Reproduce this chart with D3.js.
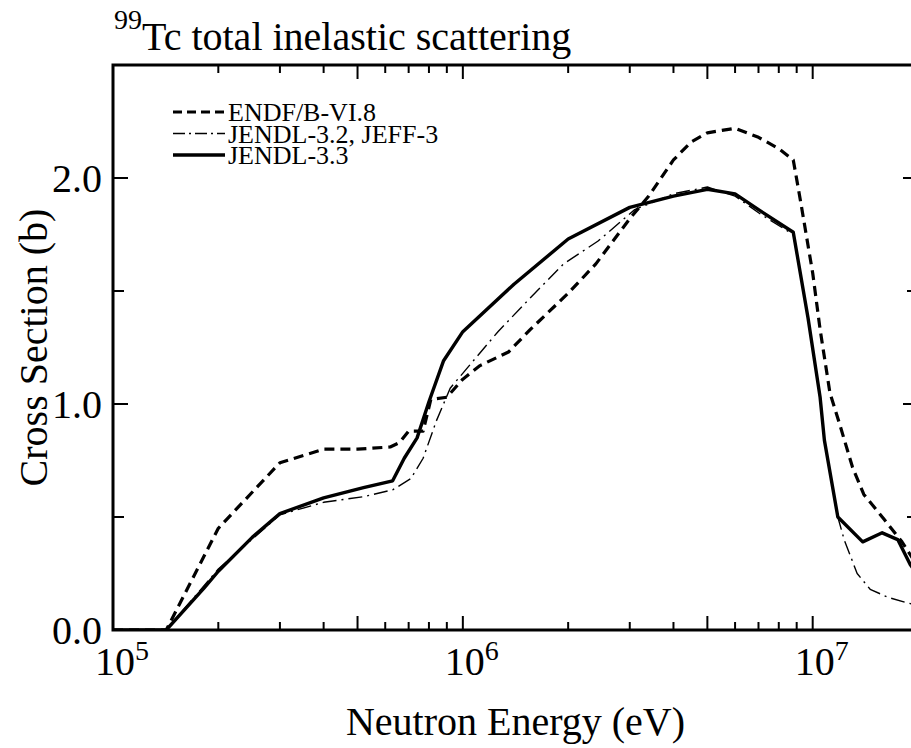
<!DOCTYPE html>
<html lang="en">
<head>
<meta charset="UTF-8">
<title>99Tc total inelastic scattering</title>
<script src="https://cdn.jsdelivr.net/npm/d3@7"></script>
<style>
    html, body {margin: 0; padding: 0; background: #fff;}
    svg {display: block;}
    text {font-family: "Liberation Serif", "DejaVu Serif", serif; fill: #000;}
</style>
</head>
<body>
<svg id="chart"></svg>
<script>
    // DATA: energy (eV) and cross section (b)
    const endfB68 = [
        [1e5, 0], [1.42e5, 0], [2e5, 0.45], [3e5, 0.74], [4e5, 0.80], [5e5, 0.80],
        [6.2e5, 0.81], [6.6e5, 0.83], [7e5, 0.88], [7.7e5, 0.88], [8.1e5, 1.02], [9e5, 1.03],
        [1e6, 1.11], [1.12e6, 1.17], [1.35e6, 1.23], [1.56e6, 1.33], [2e6, 1.49], [2.4e6, 1.62],
        [3e6, 1.82], [3.4e6, 1.92], [4e6, 2.08], [4.5e6, 2.16], [5e6, 2.20], [6e6, 2.22],
        [7e6, 2.18], [8e6, 2.13], [8.8e6, 2.08], [9.25e6, 1.89], [1e7, 1.58], [1.05e7, 1.33],
        [1.12e7, 1.05], [1.2e7, 0.90], [1.3e7, 0.72], [1.4e7, 0.60], [1.6e7, 0.49],
        [1.8e7, 0.39], [2e7, 0.28]
    ];
    const jendl32 = [
        [1e5, 0], [1.42e5, 0], [2e5, 0.27], [3e5, 0.51], [4e5, 0.565], [5.2e5, 0.59],
        [6.3e5, 0.62], [7.1e5, 0.67], [7.7e5, 0.76], [8.4e5, 0.925], [9.2e5, 1.07],
        [1.07e6, 1.19], [1.26e6, 1.32], [1.56e6, 1.47], [1.94e6, 1.62], [2.43e6, 1.72],
        [3.1e6, 1.86], [4e6, 1.93], [5e6, 1.96], [6e6, 1.92], [7.1e6, 1.84], [8.8e6, 1.75],
        [9.7e6, 1.38], [1.05e7, 1.03], [1.08e7, 0.84], [1.18e7, 0.50], [1.23e7, 0.40],
        [1.34e7, 0.25], [1.46e7, 0.18], [1.64e7, 0.145], [1.86e7, 0.12], [2e7, 0.11]
    ];
    const jendl33 = [
        [1e5, 0], [1.42e5, 0], [1.82e5, 0.185], [2e5, 0.26], [2.5e5, 0.41], [3e5, 0.515],
        [4e5, 0.585], [5.2e5, 0.63], [6.3e5, 0.66], [6.8e5, 0.76], [7.4e5, 0.85], [8e5, 1.01],
        [8.8e5, 1.19], [1e6, 1.32], [1.4e6, 1.53], [2e6, 1.73], [3e6, 1.87], [4e6, 1.92],
        [5e6, 1.95], [6e6, 1.93], [7e6, 1.86], [8.8e6, 1.76], [9.7e6, 1.38], [1.05e7, 1.03],
        [1.08e7, 0.84], [1.18e7, 0.50], [1.39e7, 0.39], [1.58e7, 0.43], [1.75e7, 0.40],
        [1.9e7, 0.29], [2e7, 0.24]
    ];
    const seriesNames = ["ENDF/B-VI.8", "JENDL-3.2, JEFF-3", "JENDL-3.3"];
    const xMajorTicks = [1e5, 1e6, 1e7];
    const xTickExponents = ["5", "6", "7"];
    const yMajorTicks = [0, 1, 2];
    const yTickLabels = ["0.0", "1.0", "2.0"];
    const yMinorTicks = [0.5, 1.5];

    // Dimensions
    const dim = {width: 911, height: 748};
    const plot = {left: 113, right: 918, top: 65, bottom: 630};

    const svg = d3.select("#chart").attr("width", dim.width).attr("height", dim.height);

    const x = d3.scaleLog().domain([1e5, 2e7]).range([plot.left, plot.right]);
    const y = d3.scaleLinear().domain([0, 2.5]).range([plot.bottom, plot.top]);

    // Series styles
    const styles = [
        {data: endfB68, width: 3.2, dash: "10,6"},
        {data: jendl32, width: 1.4, dash: "14,5,2,5"},
        {data: jendl33, width: 3.4, dash: null}
    ];

    svg.append("clipPath").attr("id", "clip")
       .append("rect")
       .attr("x", plot.left).attr("y", plot.top)
       .attr("width", plot.right - plot.left).attr("height", plot.bottom - plot.top);

    const line = d3.line().x(d => x(d[0])).y(d => y(d[1]));

    svg.append("g").attr("clip-path", "url(#clip)")
       .selectAll("path")
       .data(styles)
       .join("path")
          .attr("d", d => line(d.data))
          .attr("fill", "none")
          .attr("stroke", "#000")
          .attr("stroke-width", d => d.width)
          .attr("stroke-dasharray", d => d.dash)
          .attr("stroke-linejoin", "round");

    // Frame
    svg.append("rect")
       .attr("x", plot.left).attr("y", plot.top)
       .attr("width", plot.right - plot.left).attr("height", plot.bottom - plot.top)
       .attr("fill", "none").attr("stroke", "#000").attr("stroke-width", 3);

    // x ticks: decades and 5x longer, the rest short (bottom and top, pointing in)
    const xTicks = [];
    for (let p = 5; p <= 7; p++) {
        for (let m = 1; m <= 9; m++) {
            const v = m * Math.pow(10, p);
            if (v > 2e7) break;
            xTicks.push({v, len: (m === 1 || m === 5) ? 14 : 8});
        }
    }
    const ticks = svg.append("g").attr("stroke", "#000").attr("stroke-width", 2);
    ticks.selectAll(".xb").data(xTicks).join("line").attr("class", "xb")
         .attr("x1", d => x(d.v)).attr("x2", d => x(d.v))
         .attr("y1", plot.bottom).attr("y2", d => plot.bottom - d.len);
    ticks.selectAll(".xt").data(xTicks).join("line").attr("class", "xt")
         .attr("x1", d => x(d.v)).attr("x2", d => x(d.v))
         .attr("y1", plot.top).attr("y2", d => plot.top + d.len);

    // y ticks (left and right)
    const yTicks = yMajorTicks.map(v => ({v, len: 15})).concat(yMinorTicks.map(v => ({v, len: 11})));
    ticks.selectAll(".yl").data(yTicks).join("line").attr("class", "yl")
         .attr("x1", plot.left).attr("x2", d => plot.left + d.len)
         .attr("y1", d => y(d.v)).attr("y2", d => y(d.v));
    ticks.selectAll(".yr").data(yTicks).join("line").attr("class", "yr")
         .attr("x1", plot.right).attr("x2", d => plot.right - d.len)
         .attr("y1", d => y(d.v)).attr("y2", d => y(d.v));

    // x tick labels 10^n
    const xl = svg.append("g").selectAll("text")
                  .data(xMajorTicks)
                  .join("text")
                     .attr("x", d => x(d) - 18)
                     .attr("y", 675)
                     .attr("font-size", 40);
    xl.append("tspan").text("10");
    xl.append("tspan").attr("dy", -15).attr("font-size", 28).text((d, i) => xTickExponents[i]);

    // y tick labels
    svg.append("g").selectAll("text")
       .data(yMajorTicks)
       .join("text")
          .attr("x", 102)
          .attr("y", d => y(d))
          .attr("dy", "0.35em")
          .attr("text-anchor", "end")
          .attr("font-size", 40)
          .text((d, i) => yTickLabels[i]);

    // Axis titles
    svg.append("text")
       .attr("x", (plot.left + plot.right) / 2).attr("y", 735)
       .attr("text-anchor", "middle").attr("font-size", 40)
       .text("Neutron Energy (eV)");
    svg.append("text")
       .attr("transform", `translate(47, ${(plot.top + plot.bottom) / 2}) rotate(-90)`)
       .attr("text-anchor", "middle").attr("font-size", 40)
       .text("Cross Section (b)");

    // Title
    const title = svg.append("text").attr("x", 114).attr("y", 50).attr("font-size", 40);
    title.append("tspan").attr("font-size", 28).attr("dy", -21).text("99");
    title.append("tspan").attr("dy", 21).text("Tc total inelastic scattering");

    // Legend (rows are tight, as in the original)
    const legend = svg.append("g").selectAll("g")
                      .data(styles)
                      .join("g")
                         .attr("transform", (d, i) => `translate(173, ${112 + i * 21.5})`);
    legend.append("line")
          .attr("x1", 0).attr("x2", 52).attr("y1", 0).attr("y2", 0)
          .attr("stroke", "#000")
          .attr("stroke-width", d => d.width)
          .attr("stroke-dasharray", (d, i) => i === 0 ? "9,5" : i === 1 ? "12,4,2,4" : null);
    legend.append("text")
          .attr("x", 55).attr("dy", "0.35em")
          .attr("font-size", 26)
          .text((d, i) => seriesNames[i]);
</script>
</body>
</html>
